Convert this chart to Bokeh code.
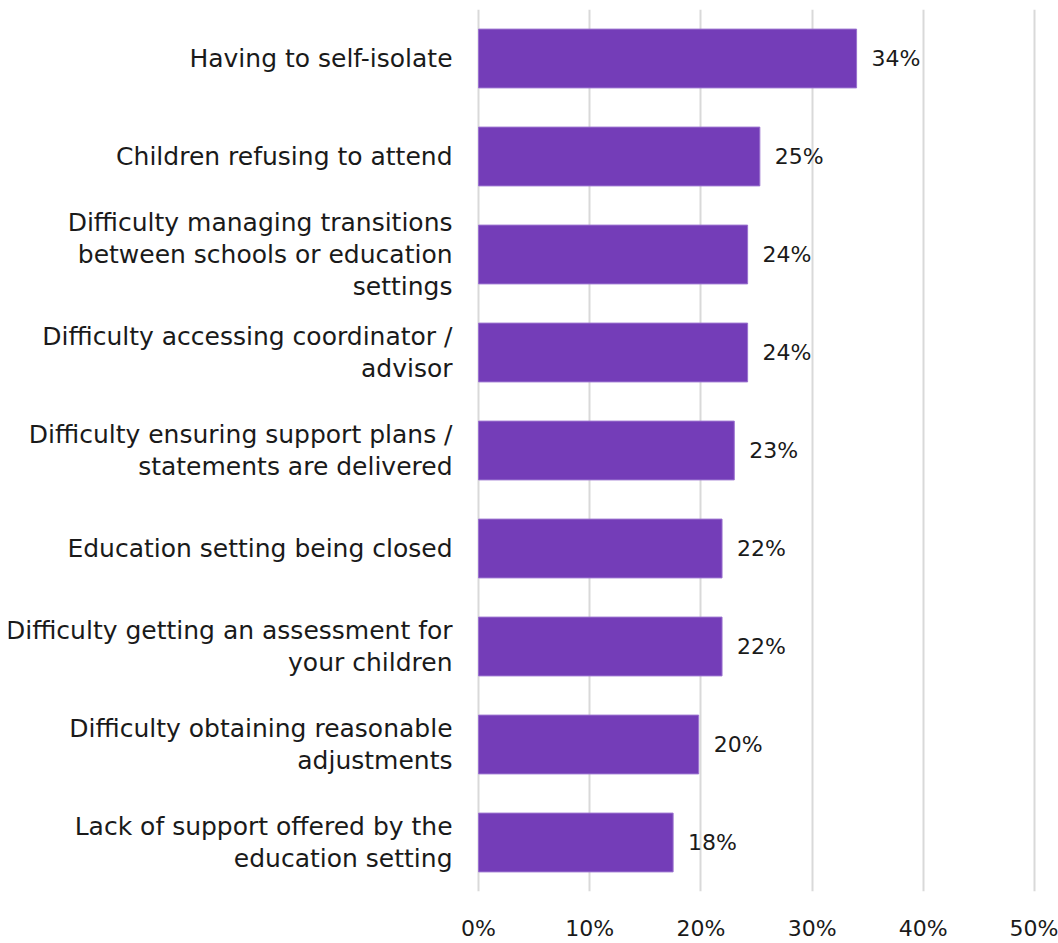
from bokeh.plotting import figure
from bokeh.models import ColumnDataSource, FactorRange, Range1d, FixedTicker
from bokeh.embed import file_html
from bokeh.resources import INLINE
from bokeh.core.properties import value

categories = [
    "Having to self-isolate",
    "Children refusing to attend",
    "Difficulty managing transitions\nbetween schools or education\nsettings",
    "Difficulty accessing coordinator /\nadvisor",
    "Difficulty ensuring support plans /\nstatements are delivered",
    "Education setting being closed",
    "Difficulty getting an assessment for\nyour children",
    "Difficulty obtaining reasonable\nadjustments",
    "Lack of support offered by the\neducation setting",
]
values = [34.0, 25.3, 24.2, 24.2, 23.0, 21.9, 21.9, 19.8, 17.5]
value_labels = ["34%", "25%", "24%", "24%", "23%", "22%", "22%", "20%", "18%"]
tick_values = [0, 10, 20, 30, 40, 50]
tick_labels = ["0%", "10%", "20%", "30%", "40%", "50%"]

FONT = "DejaVu Sans"
BAR = "#743DB8"
TXT = "#1a1a1a"

src = ColumnDataSource(dict(cat=categories, val=values, lab=value_labels,
                            zero=[0] * len(categories)))

p = figure(width=1058, height=943, output_backend="svg", toolbar_location=None,
           y_range=FactorRange(factors=categories[::-1], range_padding=0),
           x_range=Range1d(-42.27, 50.54),
           y_axis_location=None,
           min_border_left=8, min_border_right=18, min_border_top=9,
           min_border_bottom=48)
p.outline_line_color = None
p.background_fill_color = "white"
p.border_fill_color = "white"

p.hbar(y="cat", left=0, right="val", height=0.6, source=src,
       fill_color=BAR, line_color="#9a72cf", line_width=1)

p.text(x="zero", y="cat", text="cat", source=src, x_offset=-26,
       text_align="right", text_baseline="middle",
       text_font=value(FONT), text_font_size="25px", text_color=TXT,
       text_line_height=1.12)

p.text(x="val", y="cat", text="lab", source=src, x_offset=15,
       text_align="left", text_baseline="middle",
       text_font=value(FONT), text_font_size="22px", text_color=TXT)

ticker = FixedTicker(ticks=tick_values)
p.xaxis.ticker = ticker
p.xaxis.major_label_overrides = {t: l for t, l in zip(tick_values, tick_labels)}
p.xaxis.axis_line_color = None
p.xaxis.major_tick_line_color = None
p.xaxis.minor_tick_line_color = None
p.xaxis.major_tick_out = 0
p.xaxis.major_tick_in = 0
p.xaxis.major_label_standoff = 24
p.xaxis.major_label_text_font = FONT
p.xaxis.major_label_text_font_size = "22px"
p.xaxis.major_label_text_color = TXT

p.xgrid.ticker = ticker
p.xgrid.grid_line_color = "#d9d9d9"
p.xgrid.grid_line_width = 2
p.ygrid.grid_line_color = None

open("out.html", "w").write(file_html(p, INLINE))
